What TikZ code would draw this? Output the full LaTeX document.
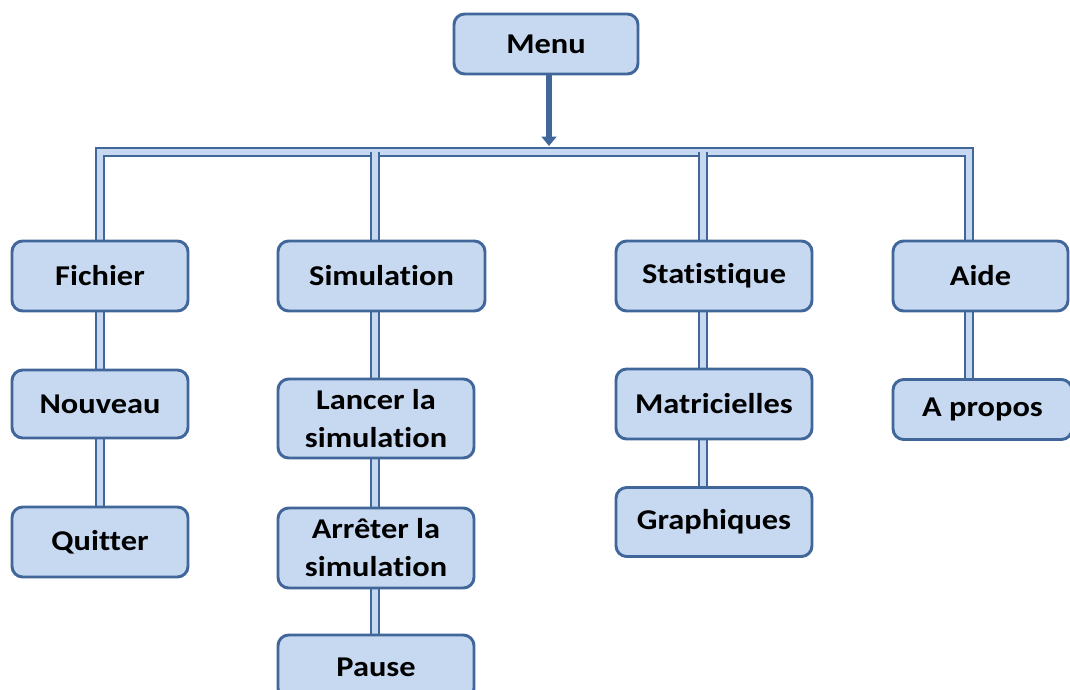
\documentclass[tikz,border=0pt]{standalone}
\usepackage{fontspec}
\setmainfont{Carlito}[FakeStretch=1.13,Ligatures=NoCommon]
\usetikzlibrary{backgrounds,arrows.meta}
\definecolor{bd}{HTML}{41679A}
\definecolor{fl}{HTML}{C6D9F1}
\begin{document}
\begin{tikzpicture}[x=0.75pt,y=-0.75pt,
  box/.style={draw=bd, fill=fl, line width=2.2pt, rounded corners=8pt, inner sep=0pt,
    align=center, font=\fontsize{21.5}{28.5}\selectfont\bfseries, text=black},
  sz/.style 2 args={minimum width=#1*0.75pt, minimum height=#2*0.75pt},
  conn/.style={draw=bd, line width=1.7pt, double=fl, double distance=3.8pt},
  arr/.style={draw=bd, line width=3.8pt, -{Triangle[width=11pt,length=7pt]}}]
\useasboundingbox (0,0) rectangle (1070,689);
\node[box, sz={184}{60}] (menu) at (546,44) {Menu};
\node[box, sz={176}{70}] (fich) at (100,276) {Fichier};
\node[box, sz={176}{68}] (nouv) at (100,404) {Nouveau};
\node[box, sz={176}{70}] (quit) at (100,542) {Quitter};
\node[box, sz={207}{70}] (sim) at (381.5,276) {Simulation};
\node[box, sz={196}{79}] (lanc) at (376,418.5) {Lancer la\\simulation};
\node[box, sz={196}{80}] (arre) at (376,548) {Arrêter la\\simulation};
\node[box, sz={196}{64}] (paus) at (376,667) {Pause};
\node[box, sz={196}{70}] (stat) at (714,276) {Statistique};
\node[box, sz={196}{70}] (matr) at (714,404) {Matricielles};
\node[box, sz={196}{69}] (grap) at (714,522) {Graphiques};
\node[box, sz={175}{70}] (aide) at (980.5,276) {Aide};
\node[box, sz={179}{60}] (apro) at (982.5,409.5) {A propos};
\coordinate (bus) at (549,152);
\coordinate (stx) at (703,0);
\coordinate (aix) at (969,0);
\coordinate (six) at (375,0);
\begin{scope}[on background layer]
  \draw[conn] (fich.north) -- (fich.north |- bus) -- (aix |- bus) -- (aix |- aide.north);
  \draw[conn] (six |- bus) -- (six |- sim.north);
  \draw[conn] (stx |- bus) -- (stx |- stat.north);
  \draw[conn] (fich.south) -- (nouv.north);
  \draw[conn] (nouv.south) -- (quit.north);
  \draw[conn] (six |- sim.south) -- (six |- lanc.north);
  \draw[conn] (six |- lanc.south) -- (six |- arre.north);
  \draw[conn] (six |- arre.south) -- (six |- paus.north);
  \draw[conn] (stx |- stat.south) -- (stx |- matr.north);
  \draw[conn] (stx |- matr.south) -- (stx |- grap.north);
  \draw[conn] (aix |- aide.south) -- (aix |- apro.north);
\end{scope}
\draw[arr] (menu.south -| bus) -- ([yshift=4.5pt]bus);
\end{tikzpicture}
\end{document}
